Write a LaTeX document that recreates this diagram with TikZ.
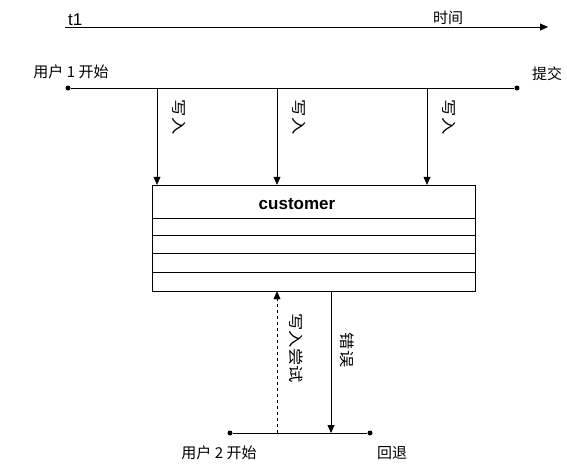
\documentclass[tikz,border=0pt]{standalone}
\usepackage{fontspec}
\setmainfont{Liberation Sans}
\newfontfamily\cjk{Noto Sans CJK SC}
\usetikzlibrary{arrows.meta}
\tikzset{
  dot/.style={circle,fill,inner sep=0pt,minimum size=5pt},
  lbl/.style={font=\cjk\fontsize{15}{17}\selectfont,inner sep=0pt},
  vlbl/.style={lbl,rotate=-90,xscale=1.15},
  arr/.style={-{Triangle[length=8pt,width=7pt]}}
}
\begin{document}
\begin{tikzpicture}[x=1pt,y=-1pt]
\useasboundingbox (0,0) rectangle (567,464);
% time axis
\coordinate (t0) at (65,27);
\coordinate (t1) at (548,27);
\draw[arr] (t0) -- (t1);
\node[font=\fontsize{17}{19}\selectfont,anchor=base west,inner sep=0pt] (lt) at (68,25) {t1};
\node[lbl,anchor=base west] (lsj) at (433,23) {时间};
% user 1
\node[dot] (u1s) at (68,88) {};
\node[dot] (u1e) at (517,88) {};
\draw (u1s) -- (u1e);
\node[lbl,anchor=base] (lu1) at (71,77) {用户 1 开始};
\node[lbl,anchor=base west] (ltj) at (532,79) {提交};
% table
\node[draw,minimum width=323pt,minimum height=106pt,inner sep=0pt] (cust) at (313.5,238) {};
\node[font=\fontsize{17}{19}\selectfont\bfseries] (cname) at (297,204) {customer};
\foreach \y in {218,235,253,272}{
  \draw (152,\y) -- (475,\y);
}
% writes of user 1
\foreach \x [count=\i] in {157,277,427}{
  \coordinate (w\i) at (\x,88);
  \draw[arr] (w\i) -- (w\i |- cust.north);
  \node[vlbl] (lw\i) at (\x+22,117) {写入};
}
% user 2
\node[dot] (u2s) at (230,433) {};
\node[dot] (u2e) at (370,433) {};
\draw (u2s) -- (u2e);
\node[lbl,anchor=base] (lu2) at (219,458) {用户 2 开始};
\node[lbl,anchor=base] (lht) at (392,458) {回退};
\coordinate (a2) at (277,433);
\coordinate (e2) at (331,433);
\draw[arr,dashed] (a2) -- (a2 |- cust.south);
\draw[arr] (e2 |- cust.south) -- (e2);
\node[vlbl] (la2) at (296,348) {写入尝试};
\node[vlbl] (le2) at (347,350) {错误};
\end{tikzpicture}
\end{document}
